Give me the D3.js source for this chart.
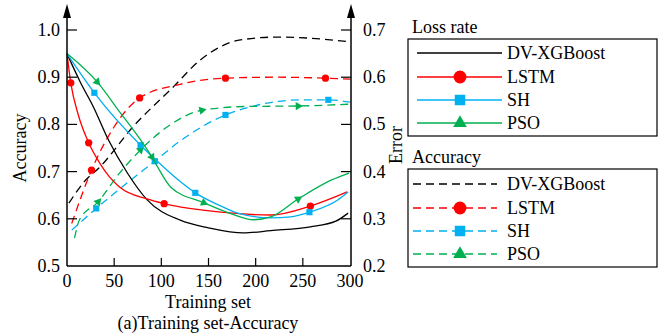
<!DOCTYPE html>
<html>
<head>
<meta charset="utf-8">
<script src="https://cdn.jsdelivr.net/npm/d3@7"></script>
<style>
  body { margin: 0; background: #fff; }
  text { font-family: "Liberation Serif", "Times New Roman", serif; fill: #000; }
</style>
</head>
<body>
<svg id="chart" width="663" height="336"></svg>
<script>
// series names
var models = ['DV-XGBoost', 'LSTM', 'SH', 'PSO'];
var colors = ['#000000', '#ff0000', '#00b0f0', '#00b050'];
var shapes = [null, 'circle', 'square', 'triangle'];

// ticks
var xTicks = [0, 50, 100, 150, 200, 250, 300];
var accTicks = [0.5, 0.6, 0.7, 0.8, 0.9, 1.0];
var errTicks = [0.2, 0.3, 0.4, 0.5, 0.6, 0.7];

// Loss rate (Error axis), solid lines
var dvLossX = [0, 14, 28, 44, 64, 85, 120, 150, 187, 216, 258, 285, 298];
var dvLossY = [0.65, 0.59, 0.537, 0.467, 0.397, 0.340, 0.297, 0.281, 0.270, 0.275, 0.283, 0.295, 0.312];
var lstmLossX = [0, 4, 12, 23, 35, 45, 56, 85, 103, 163, 216, 258, 297];
var lstmLossY = [0.65, 0.588, 0.52, 0.461, 0.417, 0.389, 0.367, 0.342, 0.332, 0.314, 0.308, 0.327, 0.357];
var lstmLossMarks = [1, 3, 8, 11];
var shLossX = [0, 29, 78, 100, 120, 136, 160, 181, 216, 237, 257, 287, 298];
var shLossY = [0.65, 0.567, 0.456, 0.414, 0.379, 0.355, 0.33, 0.312, 0.302, 0.304, 0.314, 0.34, 0.357];
var shLossMarks = [1, 2, 5, 10];
var psoLossX = [0, 32, 56, 78, 90, 96, 110, 145, 175, 198, 216, 245, 280, 299];
var psoLossY = [0.65, 0.59, 0.526, 0.467, 0.431, 0.41, 0.367, 0.334, 0.31, 0.298, 0.304, 0.342, 0.382, 0.397];
var psoLossMarks = [1, 4, 7, 11];

// Accuracy (Accuracy axis), dashed lines
var dvAccX = [2, 18, 35, 70, 113, 141, 184, 223, 269, 299];
var dvAccY = [0.633, 0.678, 0.71, 0.795, 0.88, 0.936, 0.979, 0.985, 0.981, 0.975];
var lstmAccX = [5, 26, 50, 77, 120, 168, 220, 274, 300];
var lstmAccY = [0.59, 0.703, 0.795, 0.856, 0.885, 0.898, 0.9, 0.898, 0.896];
var lstmAccMarks = [1, 3, 5, 7];
var shAccX = [5, 31, 60, 93, 120, 168, 200, 248, 277, 300];
var shAccY = [0.576, 0.622, 0.67, 0.722, 0.765, 0.82, 0.84, 0.852, 0.852, 0.847];
var shAccMarks = [1, 3, 5, 8];
var psoAccX = [8, 13, 33, 55, 78, 110, 143, 190, 245, 300];
var psoAccY = [0.559, 0.597, 0.636, 0.695, 0.746, 0.80, 0.83, 0.838, 0.839, 0.843];
var psoAccMarks = [2, 4, 6, 8];

var svg = d3.select('#chart');
var plot = { left: 67, right: 351, top: 30, bottom: 266 };

var x = d3.scaleLinear().domain([0, 300]).range([plot.left, 350]);
var yAcc = d3.scaleLinear().domain([0.5, 1.0]).range([plot.bottom, plot.top]);
var yErr = d3.scaleLinear().domain([0.2, 0.7]).range([plot.bottom, plot.top]);

function zip(xs, ys) {
  return xs.map(function(v, i) { return [v, ys[i]]; });
}

var lossSeries = [
  { pts: zip(dvLossX, dvLossY), marks: [] },
  { pts: zip(lstmLossX, lstmLossY), marks: lstmLossMarks },
  { pts: zip(shLossX, shLossY), marks: shLossMarks },
  { pts: zip(psoLossX, psoLossY), marks: psoLossMarks }
];
var accSeries = [
  { pts: zip(dvAccX, dvAccY), marks: [] },
  { pts: zip(lstmAccX, lstmAccY), marks: lstmAccMarks },
  { pts: zip(shAccX, shAccY), marks: shAccMarks },
  { pts: zip(psoAccX, psoAccY), marks: psoAccMarks }
];

function symbolFor(shape, size) {
  var type = shape == 'circle' ? d3.symbolCircle : shape == 'square' ? d3.symbolSquare : d3.symbolTriangle;
  return d3.symbol().type(type).size(size)();
}

var plotSizes = { circle: 42, square: 38, triangle: 30 };

function drawSeries(list, yScale, dashed) {
  list.forEach(function(s, k) {
    var line = d3.line()
      .x(function(d) { return x(d[0]); })
      .y(function(d) { return yScale(d[1]); })
      .curve(d3.curveMonotoneX);
    svg.append('path')
      .datum(s.pts)
      .attr('d', line)
      .attr('fill', 'none')
      .attr('stroke', colors[k])
      .attr('stroke-width', 1.3)
      .attr('stroke-dasharray', dashed ? '8,5' : null);

    s.marks.forEach(function(i) {
      var p = s.pts[i];
      var px = x(p[0]), py = yScale(p[1]);
      var rot = 0;
      if (shapes[k] == 'triangle') {
        // point the triangle along the line direction
        var a = s.pts[Math.max(i - 1, 0)], b = s.pts[Math.min(i + 1, s.pts.length - 1)];
        var ang = Math.atan2(yScale(b[1]) - yScale(a[1]), x(b[0]) - x(a[0])) * 180 / Math.PI;
        rot = ang + 90;
      }
      svg.append('path')
        .attr('d', symbolFor(shapes[k], plotSizes[shapes[k]]))
        .attr('transform', 'translate(' + px + ',' + py + ') rotate(' + rot + ')')
        .attr('fill', colors[k]);
    });
  });
}

drawSeries(accSeries, yAcc, true);
drawSeries(lossSeries, yErr, false);

// axes
var axisG = svg.append('g');
axisG.append('line').attr('x1', plot.left).attr('x2', plot.right)
  .attr('y1', plot.bottom).attr('y2', plot.bottom).attr('stroke', '#000').attr('stroke-width', 1.5);
axisG.append('line').attr('x1', plot.left).attr('x2', plot.left)
  .attr('y1', plot.bottom).attr('y2', 14).attr('stroke', '#000').attr('stroke-width', 1.5);
axisG.append('line').attr('x1', plot.right).attr('x2', plot.right)
  .attr('y1', plot.bottom).attr('y2', 14).attr('stroke', '#000').attr('stroke-width', 1.5);

[plot.left, plot.right].forEach(function(ax) {
  axisG.append('path')
    .attr('d', 'M' + ax + ',4L' + (ax - 4) + ',18L' + (ax + 4) + ',18Z')
    .attr('fill', '#000');
});

xTicks.forEach(function(t) {
  if (t > 0 && t < 300) {
    axisG.append('line').attr('x1', x(t)).attr('x2', x(t))
      .attr('y1', plot.bottom).attr('y2', plot.bottom - 8).attr('stroke', '#000').attr('stroke-width', 1.2);
  }
  axisG.append('text').attr('x', x(t)).attr('y', plot.bottom + 21)
    .attr('text-anchor', 'middle').style('font-size', '18px').text(t);
});

accTicks.forEach(function(t) {
  if (t > 0.5) {
    axisG.append('line').attr('x1', plot.left).attr('x2', plot.left + 10)
      .attr('y1', yAcc(t)).attr('y2', yAcc(t)).attr('stroke', '#000').attr('stroke-width', 1.2);
  }
  axisG.append('text').attr('x', 60).attr('y', yAcc(t) + 6)
    .attr('text-anchor', 'end').style('font-size', '18px').text(t.toFixed(1));
});

errTicks.forEach(function(t) {
  if (t > 0.2) {
    axisG.append('line').attr('x1', plot.right - 10).attr('x2', plot.right)
      .attr('y1', yErr(t)).attr('y2', yErr(t)).attr('stroke', '#000').attr('stroke-width', 1.2);
  }
  axisG.append('text').attr('x', 363).attr('y', yErr(t) + 6)
    .attr('text-anchor', 'start').style('font-size', '18px').text(t.toFixed(1));
});

svg.append('text').attr('transform', 'translate(26,148) rotate(-90)')
  .attr('text-anchor', 'middle').style('font-size', '18px').text('Accuracy');
svg.append('text').attr('transform', 'translate(402,145) rotate(-90)')
  .attr('text-anchor', 'middle').style('font-size', '18px').text('Error');
svg.append('text').attr('x', 208).attr('y', 308)
  .attr('text-anchor', 'middle').style('font-size', '18px').text('Training set');
svg.append('text').attr('x', 208).attr('y', 329)
  .attr('text-anchor', 'middle').style('font-size', '18px').text('(a)Training set-Accuracy');

// legends
function legend(title, titleY, boxTop, boxBottom, rowYs, dashed, lineX0, lineX1) {
  svg.append('text').attr('x', 412).attr('y', titleY).style('font-size', '18px').text(title);
  svg.append('rect').attr('x', 408).attr('y', boxTop)
    .attr('width', 249).attr('height', boxBottom - boxTop)
    .attr('fill', 'none').attr('stroke', '#000').attr('stroke-width', 1.2);
  models.forEach(function(m, k) {
    var ry = rowYs[k];
    svg.append('line').attr('x1', lineX0).attr('x2', lineX1).attr('y1', ry).attr('y2', ry)
      .attr('stroke', colors[k]).attr('stroke-width', 1.3)
      .attr('stroke-dasharray', dashed ? '8,5' : null);
    if (shapes[k]) {
      var sz = shapes[k] == 'circle' ? 130 : shapes[k] == 'square' ? 110 : 80;
      svg.append('path').attr('d', symbolFor(shapes[k], sz))
        .attr('transform', 'translate(460,' + ry + ')').attr('fill', colors[k]);
    }
    svg.append('text').attr('x', 507).attr('y', ry + 6).style('font-size', '18px').text(m);
  });
}

legend('Loss rate', 33, 39, 136, [53, 77, 100, 123], false, 417, 502);
legend('Accuracy', 163, 169, 267, [184, 208, 231, 254], true, 413, 497);
</script>
</body>
</html>
